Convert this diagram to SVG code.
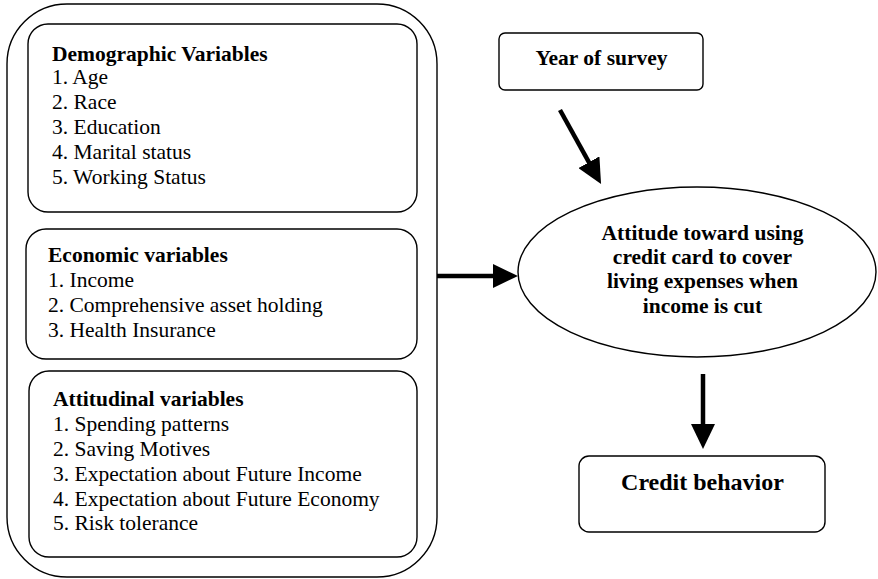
<svg xmlns="http://www.w3.org/2000/svg" width="878" height="579" viewBox="0 0 878 579">
<style>
.box{fill:#fff;stroke:#000;stroke-width:1.4}
.t{font-family:"Liberation Serif","Times New Roman",serif;font-size:21.5px;fill:#000}
.b{font-weight:bold}
.c{text-anchor:middle}
.arr{stroke:#000;stroke-width:4.5;fill:none;marker-end:url(#ah)}
</style>
<defs>
<marker id="ah" markerUnits="userSpaceOnUse" markerWidth="26" markerHeight="24" refX="15" refY="12" orient="auto">
<path d="M0,0 L25,12 L0,24 z" fill="#000"/>
</marker>
</defs>
<rect width="878" height="579" fill="#fff"/>
<g id="outer"><rect class="box" x="7" y="4" width="430" height="573" rx="60" ry="60"/></g>
<g id="demographic">
<rect class="box" x="28" y="24" width="389" height="188" rx="20" ry="20"/>
<text class="t b" x="52" y="61">Demographic Variables</text>
<text class="t" x="52" y="84">1. Age</text>
<text class="t" x="52" y="109">2. Race</text>
<text class="t" x="52" y="134">3. Education</text>
<text class="t" x="52" y="159">4. Marital status</text>
<text class="t" x="52" y="184">5. Working Status</text>
</g>
<g id="economic">
<rect class="box" x="26" y="229" width="391" height="130" rx="20" ry="20"/>
<text class="t b" x="48" y="262">Economic variables</text>
<text class="t" x="48" y="287">1. Income</text>
<text class="t" x="48" y="312">2. Comprehensive asset holding</text>
<text class="t" x="48" y="337">3. Health Insurance</text>
</g>
<g id="attitudinal">
<rect class="box" x="29" y="371" width="388" height="186" rx="20" ry="20"/>
<text class="t b" x="53" y="406">Attitudinal variables</text>
<text class="t" x="53" y="431">1. Spending patterns</text>
<text class="t" x="53" y="456">2. Saving Motives</text>
<text class="t" x="53" y="481">3. Expectation about Future Income</text>
<text class="t" x="53" y="506">4. Expectation about Future Economy</text>
<text class="t" x="53" y="530">5. Risk tolerance</text>
</g>
<g id="year">
<rect class="box" x="499" y="33" width="204" height="57" rx="6" ry="6"/>
<text class="t b c" x="601.5" y="65">Year of survey</text>
</g>
<g id="attitude">
<ellipse class="box" cx="697" cy="272" rx="179" ry="85"/>
<text class="t b c" x="702.5" y="240">Attitude toward using</text>
<text class="t b c" x="702.5" y="264">credit card to cover</text>
<text class="t b c" x="702.5" y="288">living expenses when</text>
<text class="t b c" x="702.5" y="313">income is cut</text>
</g>
<g id="credit">
<rect class="box" x="579" y="456" width="246" height="76" rx="10" ry="10"/>
<text class="t b c" x="702.5" y="490" style="font-size:24px">Credit behavior</text>
</g>
<g id="connectors">
<line class="arr" x1="437" y1="276" x2="508" y2="276"/>
<line class="arr" x1="560" y1="110" x2="596.2" y2="175.3"/>
<line class="arr" x1="703" y1="374" x2="703" y2="439"/>
</g>
</svg>
